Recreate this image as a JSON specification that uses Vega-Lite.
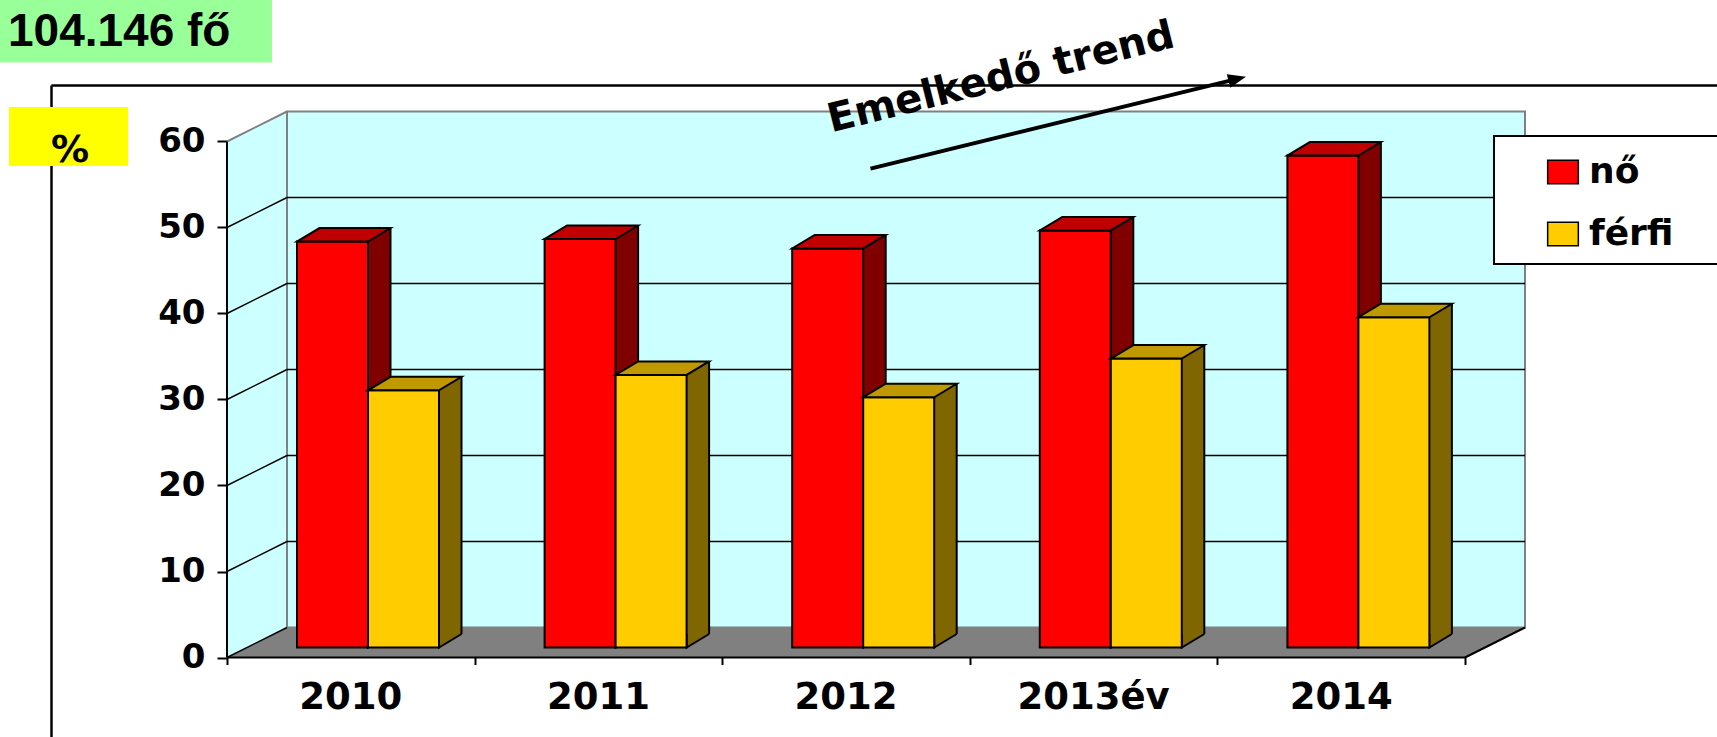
{
  "$schema": "https://vega.github.io/schema/vega-lite/v6.json",
  "width": 1717,
  "height": 737,
  "autosize": {"type": "none"},
  "padding": 0,
  "background": "white",
  "config": {"view": {"stroke": null}},
  "resolve": {"axis": {"x": "independent", "y": "independent"}},
  "datasets": {
    "adatok": [
      {"ev": 2010, "cimke": "2010", "nem": "nő", "arany": 47.2},
      {"ev": 2011, "cimke": "2011", "nem": "nő", "arany": 47.5},
      {"ev": 2012, "cimke": "2012", "nem": "nő", "arany": 46.4},
      {"ev": 2013, "cimke": "2013év", "nem": "nő", "arany": 48.5},
      {"ev": 2014, "cimke": "2014", "nem": "nő", "arany": 57.2},
      {"ev": 2010, "cimke": "2010", "nem": "férfi", "arany": 29.9},
      {"ev": 2011, "cimke": "2011", "nem": "férfi", "arany": 31.7},
      {"ev": 2012, "cimke": "2012", "nem": "férfi", "arany": 29.1},
      {"ev": 2013, "cimke": "2013év", "nem": "férfi", "arany": 33.6},
      {"ev": 2014, "cimke": "2014", "nem": "férfi", "arany": 38.4}
    ],
    "skala": [{"t": 0}, {"t": 10}, {"t": 20}, {"t": 30}, {"t": 40}, {"t": 50}, {"t": 60}]
  },
  "layer": [
    {
      "data": {"values": [{}]},
      "mark": {"type": "rule", "color": "black", "strokeWidth": 2.5},
      "encoding": {
        "x": {"datum": 2008.7912, "type": "quantitative", "scale": {"domain": [2008.5832, 2015.5178], "nice": false, "zero": false}, "axis": null},
        "x2": {"datum": 2015.6},
        "y": {"datum": 66.51, "type": "quantitative", "scale": {"domain": [-9.244, 76.453], "nice": false, "zero": false}, "axis": null}
      }
    },
    {
      "data": {"values": [{}]},
      "mark": {"type": "rule", "color": "black", "strokeWidth": 2.5},
      "encoding": {
        "x": {"datum": 2008.7912, "type": "quantitative", "axis": null},
        "y": {"datum": 66.51, "type": "quantitative", "axis": null},
        "y2": {"datum": -10}
      }
    },
    {
      "data": {"values": [{}]},
      "mark": {"type": "point", "shape": "M0,0L0,-516L60,-546L60,-30Z", "size": 4, "filled": true, "fill": "#CCFFFF", "strokeWidth": 0, "opacity": 1},
      "encoding": {
        "x": {"datum": 2009.5, "type": "quantitative", "axis": null},
        "y": {"datum": 0, "type": "quantitative", "axis": null}
      }
    },
    {
      "data": {"values": [{}]},
      "mark": {"type": "point", "shape": "M0,0L60,-30L1298,-30L1238,0Z", "size": 4, "filled": true, "fill": "#808080", "strokeWidth": 0, "opacity": 1},
      "encoding": {
        "x": {"datum": 2009.5, "type": "quantitative", "axis": null},
        "y": {"datum": 0, "type": "quantitative", "axis": null}
      }
    },
    {
      "data": {"values": [{}]},
      "mark": {"type": "rect", "fill": "#CCFFFF", "stroke": "#808080", "strokeWidth": 2, "xOffset": 60, "x2Offset": 60, "yOffset": -30, "y2Offset": -30, "opacity": 1},
      "encoding": {
        "x": {"datum": 2009.5, "type": "quantitative", "axis": null},
        "x2": {"datum": 2014.5},
        "y": {"datum": 60, "type": "quantitative", "axis": null},
        "y2": {"datum": 0}
      }
    },
    {
      "data": {"name": "skala"},
      "transform": [{"filter": "datum.t > 0 && datum.t < 60"}],
      "mark": {"type": "rule", "color": "black", "strokeWidth": 1.5, "xOffset": 60, "x2Offset": 60, "yOffset": -30},
      "encoding": {
        "x": {"datum": 2009.5, "type": "quantitative", "axis": null},
        "x2": {"datum": 2014.5},
        "y": {"field": "t", "type": "quantitative", "scale": {"domain": [-9.244, 76.453], "nice": false, "zero": false},
          "axis": {"values": [0, 10, 20, 30, 40, 50, 60], "domain": false, "grid": false, "ticks": true, "tickSize": 10, "tickWidth": 2, "tickColor": "black", "labelFont": "DejaVu Sans", "labelFontWeight": "bold", "labelFontSize": 34, "labelColor": "black", "labelPadding": 12, "offset": -227, "title": null}}
      }
    },
    {
      "data": {"name": "skala"},
      "transform": [{"filter": "datum.t < 60"}],
      "mark": {"type": "rule", "color": "black", "strokeWidth": 1.5, "x2Offset": 60, "y2Offset": -30},
      "encoding": {
        "x": {"datum": 2009.5, "type": "quantitative", "axis": null},
        "x2": {"datum": 2009.5},
        "y": {"field": "t", "type": "quantitative", "axis": null},
        "y2": {"field": "t"}
      }
    },
    {
      "data": {"values": [{}]},
      "mark": {"type": "rule", "color": "#808080", "strokeWidth": 2, "x2Offset": 60, "y2Offset": -30},
      "encoding": {
        "x": {"datum": 2009.5, "type": "quantitative", "axis": null},
        "x2": {"datum": 2009.5},
        "y": {"datum": 60, "type": "quantitative", "axis": null},
        "y2": {"datum": 60}
      }
    },
    {
      "data": {"name": "adatok"},
      "transform": [{"filter": "datum.nem === 'nő'"}],
      "mark": {"type": "rect", "fill": "#800000", "strokeWidth": 0, "xOffset": 17.2, "x2Offset": 39.7, "yOffset": -23.5, "y2Offset": -23.5, "opacity": 1},
      "encoding": {
        "x": {"field": "ev", "type": "quantitative", "scale": {"domain": [2008.5832, 2015.5178], "nice": false, "zero": false},
          "axis": {"values": [2009.5, 2010.5, 2011.5, 2012.5, 2013.5, 2014.5], "labels": false, "domain": false, "grid": false, "ticks": true, "tickSize": 7, "tickWidth": 2, "tickColor": "black", "offset": -79.5, "title": null}},
        "x2": {"field": "ev"},
        "y": {"field": "arany", "type": "quantitative", "axis": null},
        "y2": {"datum": 0}
      }
    },
    {
      "data": {"name": "adatok"},
      "transform": [{"filter": "datum.nem === 'nő'"}],
      "mark": {"type": "rule", "color": "black", "strokeWidth": 2, "xOffset": 39.7, "x2Offset": 39.7, "yOffset": -23.5, "y2Offset": -23.5},
      "encoding": {
        "x": {"field": "ev", "type": "quantitative", "axis": null},
        "y": {"field": "arany", "type": "quantitative", "axis": null},
        "y2": {"datum": 0}
      }
    },
    {
      "data": {"name": "adatok"},
      "transform": [{"filter": "datum.nem === 'nő'"}],
      "mark": {"type": "point", "shape": "M0,-13.5L0,0L22.5,-13.5", "size": 4, "filled": true, "fill": "#800000", "stroke": "black", "strokeWidth": 2, "opacity": 1, "xOffset": 17.2, "yOffset": -10},
      "encoding": {
        "x": {"field": "ev", "type": "quantitative", "axis": null},
        "y": {"datum": 0, "type": "quantitative", "axis": null}
      }
    },
    {
      "data": {"name": "adatok"},
      "transform": [{"filter": "datum.nem === 'nő'"}],
      "mark": {"type": "rect", "stroke": "black", "strokeWidth": 2, "xOffset": -53.8, "x2Offset": 17.2, "yOffset": -10, "y2Offset": -10, "opacity": 1},
      "encoding": {
        "x": {"field": "ev", "type": "quantitative", "axis": null},
        "x2": {"field": "ev"},
        "y": {"field": "arany", "type": "quantitative", "axis": null},
        "y2": {"datum": 0},
        "color": {"field": "nem", "type": "nominal",
          "scale": {"domain": ["nő", "férfi"], "range": ["#FF0000", "#FFCC00"]},
          "legend": {"title": null, "orient": "none", "legendX": 1545, "legendY": 154, "direction": "vertical", "symbolType": "M-1.3,-1H1.3V1H-1.3Z", "symbolSize": 557, "symbolStrokeColor": "black", "symbolStrokeWidth": 1.5, "symbolOpacity": 1, "labelFont": "DejaVu Sans", "labelFontWeight": "bold", "labelFontSize": 36, "labelColor": "black", "labelOffset": 8, "rowPadding": 26, "padding": 0}}
      }
    },
    {
      "data": {"name": "adatok"},
      "transform": [{"filter": "datum.nem === 'nő'"}],
      "mark": {"type": "point", "shape": "M0,0L71,0L93.5,-13.5L22.5,-13.5Z", "size": 4, "filled": true, "fill": "#C00000", "stroke": "black", "strokeWidth": 2, "opacity": 1, "xOffset": -53.8, "yOffset": -10},
      "encoding": {
        "x": {"field": "ev", "type": "quantitative", "axis": null},
        "y": {"field": "arany", "type": "quantitative", "axis": null}
      }
    },
    {
      "data": {"name": "adatok"},
      "transform": [{"filter": "datum.nem === 'férfi'"}],
      "mark": {"type": "rect", "fill": "#806600", "strokeWidth": 0, "xOffset": 88.2, "x2Offset": 110.7, "yOffset": -23.5, "y2Offset": -23.5, "opacity": 1},
      "encoding": {
        "x": {"field": "ev", "type": "quantitative", "axis": null},
        "x2": {"field": "ev"},
        "y": {"field": "arany", "type": "quantitative", "axis": null},
        "y2": {"datum": 0}
      }
    },
    {
      "data": {"name": "adatok"},
      "transform": [{"filter": "datum.nem === 'férfi'"}],
      "mark": {"type": "rule", "color": "black", "strokeWidth": 2, "xOffset": 110.7, "x2Offset": 110.7, "yOffset": -23.5, "y2Offset": -23.5},
      "encoding": {
        "x": {"field": "ev", "type": "quantitative", "axis": null},
        "y": {"field": "arany", "type": "quantitative", "axis": null},
        "y2": {"datum": 0}
      }
    },
    {
      "data": {"name": "adatok"},
      "transform": [{"filter": "datum.nem === 'férfi'"}],
      "mark": {"type": "point", "shape": "M0,-13.5L0,0L22.5,-13.5", "size": 4, "filled": true, "fill": "#806600", "stroke": "black", "strokeWidth": 2, "opacity": 1, "xOffset": 88.2, "yOffset": -10},
      "encoding": {
        "x": {"field": "ev", "type": "quantitative", "axis": null},
        "y": {"datum": 0, "type": "quantitative", "axis": null}
      }
    },
    {
      "data": {"name": "adatok"},
      "transform": [{"filter": "datum.nem === 'férfi'"}],
      "mark": {"type": "rect", "stroke": "black", "strokeWidth": 2, "xOffset": 17.2, "x2Offset": 88.2, "yOffset": -10, "y2Offset": -10, "opacity": 1},
      "encoding": {
        "x": {"field": "ev", "type": "quantitative", "axis": null},
        "x2": {"field": "ev"},
        "y": {"field": "arany", "type": "quantitative", "axis": null},
        "y2": {"datum": 0},
        "color": {"field": "nem", "type": "nominal",
          "scale": {"domain": ["nő", "férfi"], "range": ["#FF0000", "#FFCC00"]},
          "legend": {"title": null, "orient": "none", "legendX": 1545, "legendY": 154, "direction": "vertical", "symbolType": "M-1.3,-1H1.3V1H-1.3Z", "symbolSize": 557, "symbolStrokeColor": "black", "symbolStrokeWidth": 1.5, "symbolOpacity": 1, "labelFont": "DejaVu Sans", "labelFontWeight": "bold", "labelFontSize": 36, "labelColor": "black", "labelOffset": 8, "rowPadding": 26, "padding": 0}}
      }
    },
    {
      "data": {"name": "adatok"},
      "transform": [{"filter": "datum.nem === 'férfi'"}],
      "mark": {"type": "point", "shape": "M0,0L71,0L93.5,-13.5L22.5,-13.5Z", "size": 4, "filled": true, "fill": "#C09900", "stroke": "black", "strokeWidth": 2, "opacity": 1, "xOffset": 17.2, "yOffset": -10},
      "encoding": {
        "x": {"field": "ev", "type": "quantitative", "axis": null},
        "y": {"field": "arany", "type": "quantitative", "axis": null}
      }
    },
    {
      "data": {"values": [{}]},
      "mark": {"type": "rule", "color": "black", "strokeWidth": 2},
      "encoding": {
        "x": {"datum": 2009.5, "type": "quantitative", "axis": null},
        "y": {"datum": 0, "type": "quantitative", "axis": null},
        "y2": {"datum": 60}
      }
    },
    {
      "data": {"values": [{}]},
      "mark": {"type": "rule", "color": "black", "strokeWidth": 2},
      "encoding": {
        "x": {"datum": 2009.5, "type": "quantitative", "axis": null},
        "x2": {"datum": 2014.5},
        "y": {"datum": 0, "type": "quantitative", "axis": null}
      }
    },
    {
      "data": {"values": [{}]},
      "mark": {"type": "rule", "color": "black", "strokeWidth": 2, "x2Offset": 60, "y2Offset": -30},
      "encoding": {
        "x": {"datum": 2014.5, "type": "quantitative", "axis": null},
        "x2": {"datum": 2014.5},
        "y": {"datum": 0, "type": "quantitative", "axis": null},
        "y2": {"datum": 0}
      }
    },
    {
      "data": {"name": "adatok"},
      "transform": [{"filter": "datum.nem === 'nő'"}],
      "mark": {"type": "text", "font": "DejaVu Sans", "fontWeight": "bold", "fontSize": 37, "color": "black", "align": "center", "baseline": "middle"},
      "encoding": {
        "x": {"field": "ev", "type": "quantitative", "axis": null},
        "y": {"datum": -4.71, "type": "quantitative", "axis": null},
        "text": {"field": "cimke"}
      }
    },
    {
      "data": {"values": [{}]},
      "mark": {"type": "rect", "fill": "#99FF99", "strokeWidth": 0, "opacity": 1},
      "encoding": {
        "x": {"datum": 2008.55, "type": "quantitative", "axis": null},
        "x2": {"datum": 2009.6818},
        "y": {"datum": 77, "type": "quantitative", "axis": null},
        "y2": {"datum": 69.2}
      }
    },
    {
      "data": {"values": [{}]},
      "mark": {"type": "text", "font": "Liberation Sans", "fontWeight": "bold", "fontSize": 46, "color": "black", "align": "left", "baseline": "middle"},
      "encoding": {
        "x": {"datum": 2008.6155, "type": "quantitative", "axis": null},
        "y": {"datum": 72.7, "type": "quantitative", "axis": null},
        "text": {"value": "104.146 fő"}
      }
    },
    {
      "data": {"values": [{}]},
      "mark": {"type": "rect", "fill": "#FFFF00", "strokeWidth": 0, "opacity": 1},
      "encoding": {
        "x": {"datum": 2008.6196, "type": "quantitative", "axis": null},
        "x2": {"datum": 2009.1002},
        "y": {"datum": 64.01, "type": "quantitative", "axis": null},
        "y2": {"datum": 57.15}
      }
    },
    {
      "data": {"values": [{}]},
      "mark": {"type": "text", "font": "DejaVu Sans", "fontWeight": "bold", "fontSize": 38, "color": "black", "align": "center", "baseline": "middle"},
      "encoding": {
        "x": {"datum": 2008.8659, "type": "quantitative", "axis": null},
        "y": {"datum": 58.9, "type": "quantitative", "axis": null},
        "text": {"value": "%"}
      }
    },
    {
      "data": {"values": [{}]},
      "mark": {"type": "rect", "fill": "white", "stroke": "black", "strokeWidth": 2, "opacity": 1},
      "encoding": {
        "x": {"datum": 2014.6171, "type": "quantitative", "axis": null},
        "x2": {"datum": 2015.6},
        "y": {"datum": 60.64, "type": "quantitative", "axis": null},
        "y2": {"datum": 45.76}
      }
    },
    {
      "data": {"values": [{}]},
      "mark": {"type": "rule", "color": "black", "strokeWidth": 4},
      "encoding": {
        "x": {"datum": 2012.0989, "type": "quantitative", "axis": null},
        "x2": {"datum": 2013.5762},
        "y": {"datum": 56.85, "type": "quantitative", "axis": null},
        "y2": {"datum": 67.253}
      }
    },
    {
      "data": {"values": [{}]},
      "mark": {"type": "point", "shape": "M0,0L-18,-7L-18,7Z", "size": 4, "filled": true, "fill": "black", "strokeWidth": 0, "opacity": 1, "angle": -13.8},
      "encoding": {
        "x": {"datum": 2013.6155, "type": "quantitative", "axis": null},
        "y": {"datum": 67.53, "type": "quantitative", "axis": null}
      }
    },
    {
      "data": {"values": [{}]},
      "mark": {"type": "text", "font": "DejaVu Sans", "fontWeight": "bold", "fontSize": 40, "color": "black", "align": "center", "baseline": "middle", "angle": -14},
      "encoding": {
        "x": {"datum": 2012.626, "type": "quantitative", "axis": null},
        "y": {"datum": 67.4, "type": "quantitative", "axis": null},
        "text": {"value": "Emelkedő trend"}
      }
    }
  ]
}
